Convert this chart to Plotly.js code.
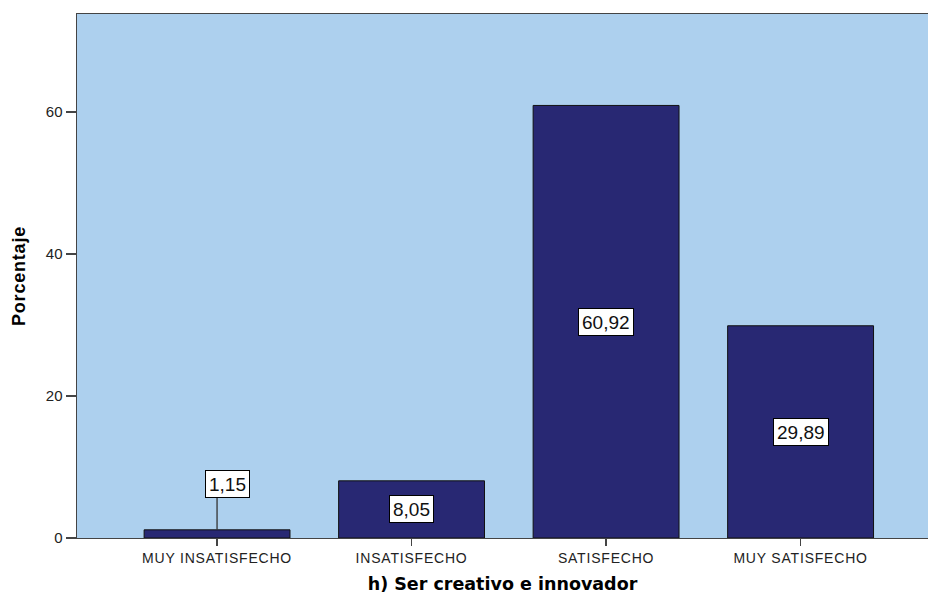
<!DOCTYPE html>
<html>
<head>
<meta charset="utf-8">
<script src="https://cdn.plot.ly/plotly-3.0.1.min.js"></script>
<style>
html,body{margin:0;padding:0;background:#fff;}
#chart{width:928px;height:594px;}
#chart .xtick text{letter-spacing:0.8px;}
#chart .ytitle{letter-spacing:0.8px;}
</style>
</head>
<body>
<div id="chart"></div>
<script>
const categories = ["MUY INSATISFECHO", "INSATISFECHO", "SATISFECHO", "MUY SATISFECHO"];
const values = [1.15, 8.05, 60.92, 29.89];
const valueLabels = ["1,15", "8,05", "60,92", "29,89"];
const yTicks = [0, 20, 40, 60];

const trace = {
  type: "bar",
  x: [0, 1, 2, 3],
  y: values,
  width: 0.75,
  marker: {color: "#282873", line: {color: "#111111", width: 1}},
  hoverinfo: "none"
};

const shapes = [];
const annotations = values.map((v, i) => {
  const base = {
    x: i, xref: "x", yref: "y",
    text: valueLabels[i],
    showarrow: false,
    bgcolor: "#ffffff", bordercolor: "#000000", borderwidth: 1, borderpad: 3,
    height: 20,
    font: {family: "Liberation Sans, Arial, sans-serif", size: 19, color: "#111"}
  };
  if (v < 5) {
    shapes.push({
      type: "line", xref: "x", yref: "y", x0: i, x1: i,
      ysizemode: "pixel", yanchor: v, y0: 0, y1: 32,
      line: {color: "#333", width: 1.3}
    });
    return Object.assign(base, {y: v, yanchor: "bottom", yshift: 32, xshift: 10});
  }
  return Object.assign(base, {y: v / 2});
});

const layout = {
  width: 928, height: 594,
  margin: {l: 77, r: 0, t: 14, b: 56},
  paper_bgcolor: "#ffffff",
  plot_bgcolor: "#add0ee",
  showlegend: false,
  font: {family: "Liberation Sans, Arial, sans-serif", color: "#222"},
  xaxis: {
    range: [-0.72, 3.655],
    tickmode: "array", tickvals: [0, 1, 2, 3], ticktext: categories,
    ticks: "outside", ticklen: 7, tickcolor: "#444", tickwidth: 1.2,
    tickfont: {size: 14, color: "#222"},
    showline: true, linecolor: "#444", linewidth: 1.2, mirror: true,
    showgrid: false, zeroline: false,
    title: {text: "h) Ser creativo e innovador", font: {size: 17.5, color: "#000", family: "DejaVu Sans, sans-serif", weight: "bold"}, standoff: 13}
  },
  yaxis: {
    range: [0, 73.8],
    tickmode: "array", tickvals: yTicks,
    ticks: "outside", ticklen: 10, tickcolor: "#444", tickwidth: 1.2,
    tickfont: {size: 15, color: "#222"},
    showline: true, linecolor: "#444", linewidth: 1.5,
    showgrid: false, zeroline: false,
    title: {text: "Porcentaje", font: {size: 18, color: "#000", family: "Liberation Sans, Arial, sans-serif", weight: "bold"}, standoff: 15}
  },
  shapes: shapes,
  annotations: annotations
};

Plotly.newPlot("chart", [trace], layout, {displayModeBar: false, staticPlot: true});
</script>
</body>
</html>
